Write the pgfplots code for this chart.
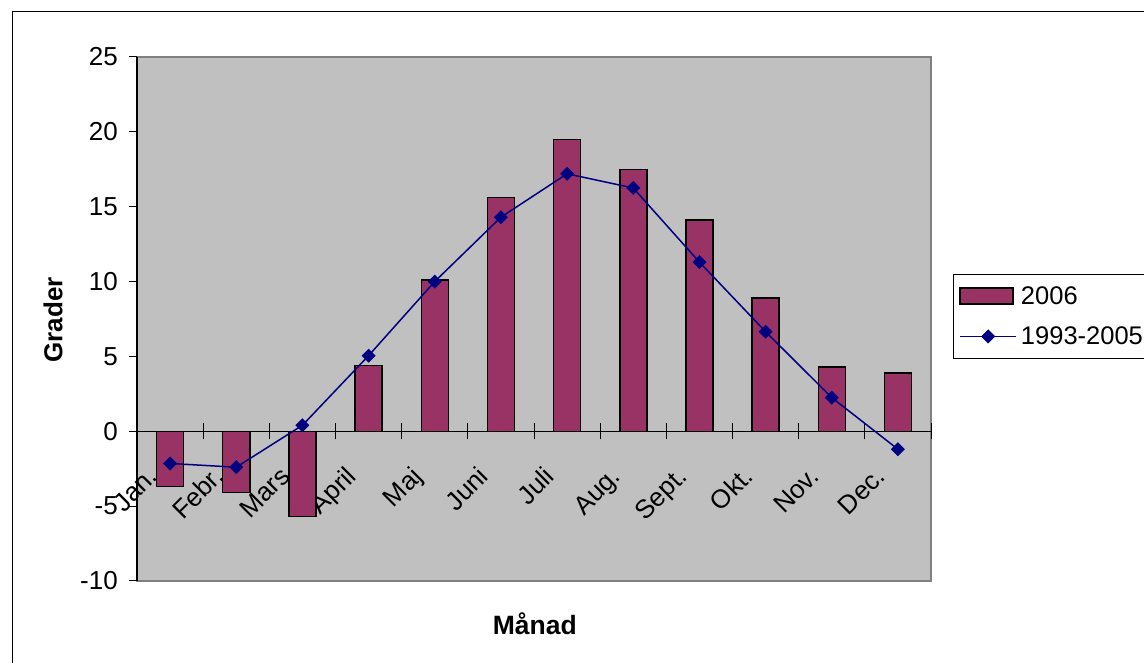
\documentclass[border=0pt]{standalone}
\usepackage{fontspec}
\setmainfont{Liberation Sans}
\usepackage{pgfplots}
\pgfplotsset{compat=1.18}
\definecolor{barfill}{HTML}{993366}
\definecolor{linecol}{HTML}{000080}
\definecolor{plotbg}{HTML}{C0C0C0}
\definecolor{framecol}{HTML}{808080}
\begin{document}
\begin{tikzpicture}[x=1pt,y=1pt]
\useasboundingbox (0,0) rectangle (1144,663);
\draw[line width=1pt] (12,-10) -- (12,651) -- (1160,651);
\begin{axis}[
  at={(137pt,82pt)}, anchor=south west,
  scale only axis, width=794pt, height=524pt,
  xmin=0.5, xmax=12.5, ymin=-10, ymax=25,
  axis background/.style={fill=plotbg, draw=framecol, line width=2pt},
  axis x line=middle, axis y line=left,
  axis line style={-, black, line width=1.3pt},
  hide obscured x ticks=false, hide obscured y ticks=false,
  xtick={1,...,12},
  xticklabels={Jan.,Febr.,Mars,April,Maj,Juni,Juli,Aug.,Sept.,Okt.,Nov.,Dec.},
  minor xtick={0.5,1.5,...,12.5},
  ytick={-10,-5,...,25},
  tick align=center,
  major tick length=8pt, minor tick length=16pt,
  major x tick style={draw=none},
  ytick style={xshift=-4pt, black, line width=1pt},
  minor x tick style={black, line width=1pt},
  tick label style={font=\fontsize{26}{30}\selectfont},
  /pgf/number format/assume math mode=true,
  yticklabel style={anchor=east, inner sep=0pt, xshift=-15pt},
  xticklabel style={inner sep=0pt, xshift=-11pt, yshift=-43pt, rotate=45, anchor=base east},
  xlabel={Månad},
  xlabel style={at={(rel axis cs:0.501,-0.082)}, anchor=center, font=\fontsize{26.5}{30}\selectfont\bfseries},
  ylabel={Grader},
  ylabel style={at={(rel axis cs:-0.1058,0.498)}, anchor=center, rotate=0, font=\fontsize{26}{30}\selectfont\bfseries},
  legend style={at={(rel axis cs:1.0277,0.5859)}, anchor=north west, draw=black, line width=1pt,
    font=\fontsize{25.5}{30}\selectfont, inner xsep=6pt, inner ysep=10pt, row sep=17pt,
    /tikz/every odd column/.append style={column sep=2pt}},
  legend cell align=left,
  clip=false,
]
\addplot[ybar, bar width=27pt, fill=barfill, draw=black, line width=1.5pt,
  legend image code/.code={\draw[fill=barfill, draw=black, line width=1.5pt] (0pt,-8pt) rectangle (53pt,8pt);}]
  coordinates {(1,-3.7) (2,-4.1) (3,-5.7) (4,4.4) (5,10.1) (6,15.6) (7,19.5) (8,17.5) (9,14.1) (10,8.9) (11,4.3) (12,3.9)};
\addlegendentry{2006}
\addplot[color=linecol, line width=1.5pt, mark=square*, mark size=4.2pt, mark options={rotate=45, fill=linecol, solid},
  legend image code/.code={\draw[linecol, line width=1.5pt] (0pt,0pt) -- (56pt,0pt);
    \fill[linecol] (28pt,6pt) -- (34pt,0pt) -- (28pt,-6pt) -- (22pt,0pt) -- cycle;}]
  coordinates {(1,-2.15) (2,-2.4) (3,0.4) (4,5.05) (5,10.0) (6,14.3) (7,17.2) (8,16.25) (9,11.3) (10,6.65) (11,2.25) (12,-1.2)};
\addlegendentry{1993-2005}
\end{axis}
\end{tikzpicture}
\end{document}
